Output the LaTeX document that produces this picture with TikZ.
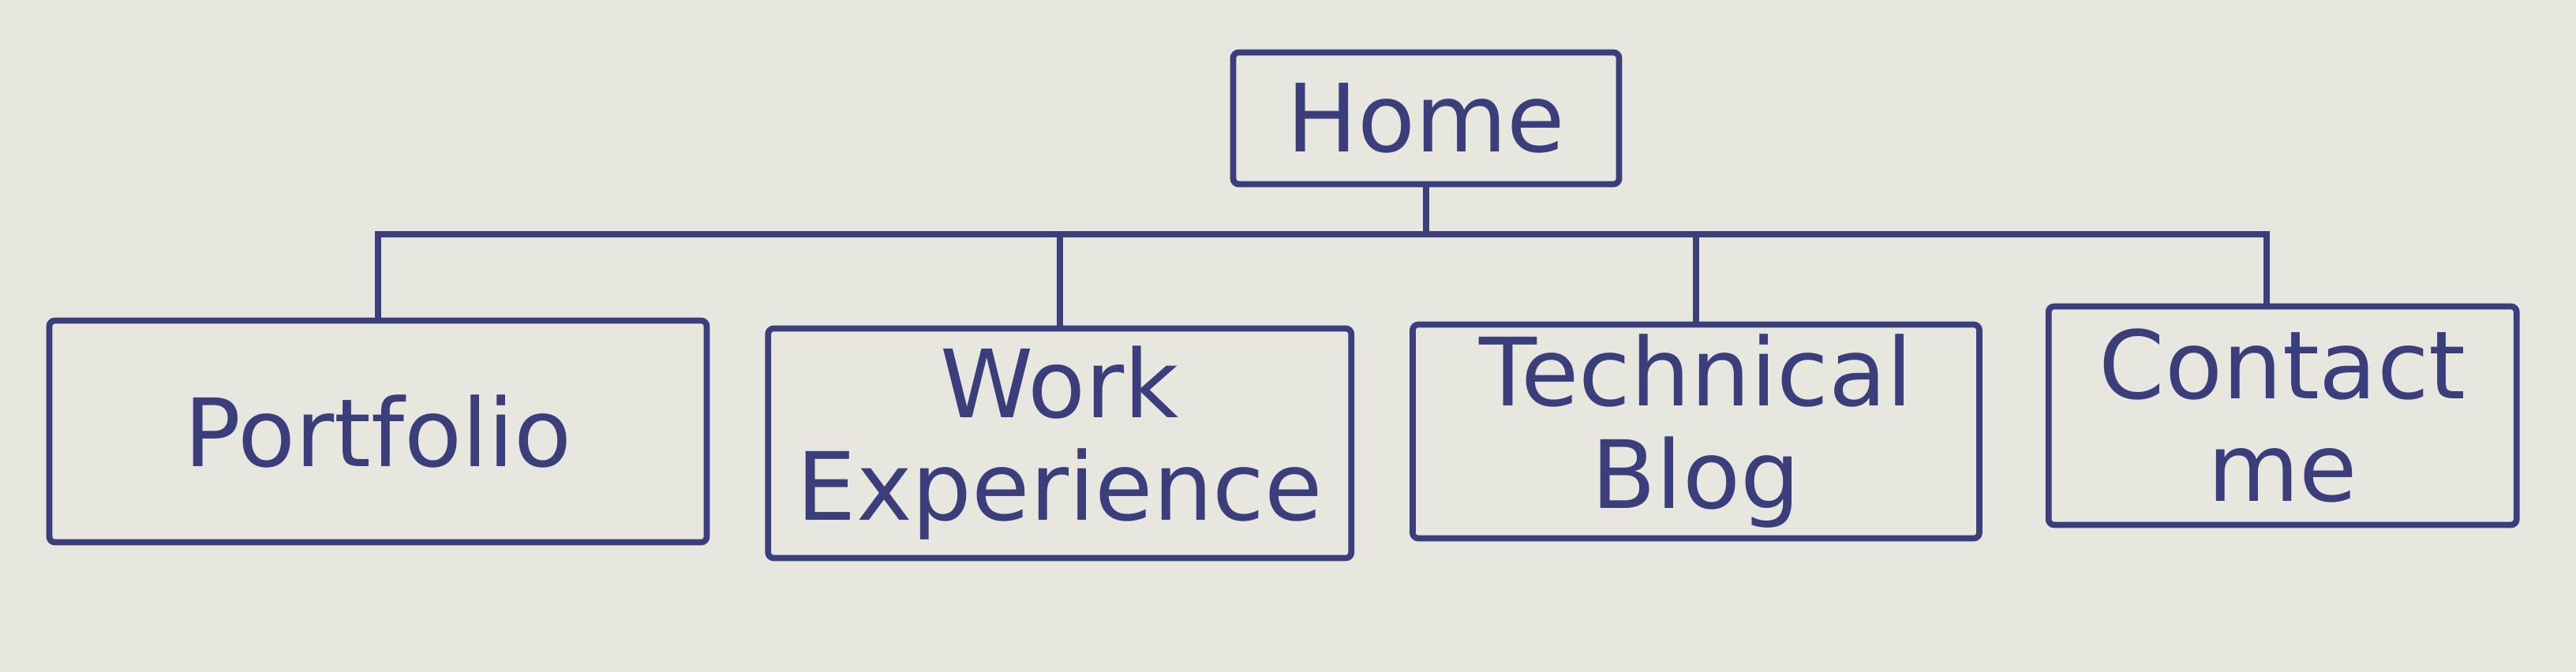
\documentclass[tikz,border=0pt]{standalone}
\usepackage{fontspec}
\setmainfont{DejaVu Sans}
\usepackage{xcolor}
\usepackage{tikz}
\usetikzlibrary{positioning}

\definecolor{paper}{RGB}{231,230,223}
\definecolor{ink}{RGB}{58,62,122}

\begin{document}
\begin{tikzpicture}[
		node distance = 0.7cm,
		page/.style = {draw=ink, line width=2.2pt, rounded corners=2pt, text=ink, align=center,
			font=\fontsize{34}{37}\selectfont, inner sep=2pt},
		link/.style = {draw=ink, line width=2.2pt}
		]
		\fill[paper] (0,0) rectangle (32.64,-8.52);
		\useasboundingbox (0,0) rectangle (32.64,-8.52);
		
		\node (home) [page, minimum width=4.89cm, minimum height=1.67cm] at (18.07,-1.50) {Home};
		\node (portfolio) [page, minimum width=8.33cm, minimum height=2.81cm] at (4.79,-5.47) {Portfolio};
		\node (work) [page, right=of portfolio, yshift=-0.15cm, minimum width=7.39cm, minimum height=2.91cm] {Work\\Experience};
		\node (blog) [page, right=of work, yshift=0.15cm, minimum width=7.18cm, minimum height=2.71cm] {Technical\\Blog};
		\node (contact) [page, right=0.8cm of blog, yshift=0.2cm, minimum width=5.93cm, minimum height=2.77cm] {Contact\\me};
		
		\draw[link] (home.south) -- ++(0,-0.6) coordinate (hub);
		\draw[link] (hub) -| (portfolio.north);
		\draw[link] (hub) -| (work.north);
		\draw[link] (hub) -| (blog.north);
		\draw[link] (hub) -| ([xshift=-0.2cm]contact.north);
		
\end{tikzpicture}
\end{document}
